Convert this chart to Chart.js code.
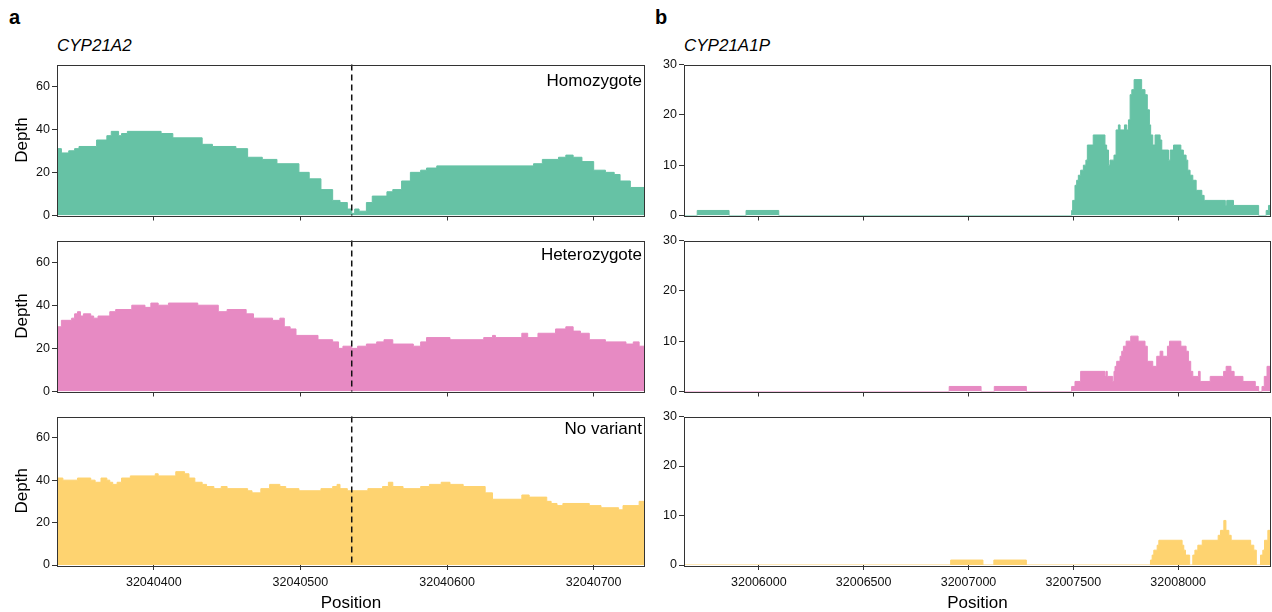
<!DOCTYPE html>
<html>
<head>
<meta charset="utf-8">
<script src="https://cdn.jsdelivr.net/npm/chart.js@4.4.0/dist/chart.umd.min.js"></script>
<style>
  body { margin: 0; background: #fff; width: 1272px; height: 612px; position: relative; overflow: hidden;
         font-family: "Liberation Sans", Arial, sans-serif; }
  canvas { position: absolute; }
  .tag { position: absolute; font-weight: bold; font-size: 20px; line-height: 20px; }
  .gene { position: absolute; font-style: italic; font-size: 17px; line-height: 20px; }
</style>
</head>
<body>
<div class="tag" style="left:9px;top:7px">a</div>
<div class="tag" style="left:655px;top:7px">b</div>
<div class="gene" style="left:57px;top:36px">CYP21A2</div>
<div class="gene" style="left:684px;top:36px">CYP21A1P</div>

<canvas id="a1" width="652" height="170" style="left:0;top:55px"></canvas>
<canvas id="a2" width="652" height="170" style="left:0;top:231px"></canvas>
<canvas id="a3" width="652" height="205" style="left:0;top:407px"></canvas>
<canvas id="b1" width="620" height="170" style="left:652px;top:55px"></canvas>
<canvas id="b2" width="620" height="170" style="left:652px;top:231px"></canvas>
<canvas id="b3" width="620" height="205" style="left:652px;top:407px"></canvas>

<script>
// CYP21A2 region
var geneRange = [32040334, 32040735];
var geneTicks = [32040400, 32040500, 32040600, 32040700];
var geneDepthTicks = [0, 20, 40, 60];
var variantPos = 32040535;

var homPos   = [32040334, 32040337, 32040342, 32040346, 32040349, 32040361, 32040368, 32040371, 32040376, 32040378, 32040382, 32040405, 32040413, 32040433, 32040440, 32040456, 32040464, 32040474, 32040484, 32040499, 32040506, 32040514, 32040522, 32040527, 32040532, 32040535, 32040537, 32040540, 32040545, 32040549, 32040559, 32040563, 32040569, 32040575, 32040582, 32040586, 32040593, 32040659, 32040665, 32040676, 32040681, 32040686, 32040692, 32040700, 32040708, 32040714, 32040718, 32040725, 32040735];
var homDepth = [31, 29, 30, 31, 32, 35, 37, 39, 37, 38, 39, 38, 36, 33, 32, 31, 27, 26, 24, 20, 17, 12, 7, 6, 3, 1, 3, 2, 6, 9, 11, 12, 16, 20, 21, 22, 23, 24, 26, 27, 28, 27, 25, 21, 20, 19, 16, 13, 12];

var hetPos   = [32040334, 32040337, 32040344, 32040346, 32040348, 32040350, 32040352, 32040357, 32040359, 32040362, 32040370, 32040374, 32040385, 32040394, 32040398, 32040403, 32040410, 32040430, 32040444, 32040450, 32040463, 32040468, 32040481, 32040486, 32040489, 32040493, 32040497, 32040512, 32040522, 32040526, 32040529, 32040535, 32040539, 32040545, 32040552, 32040557, 32040563, 32040577, 32040582, 32040586, 32040602, 32040625, 32040631, 32040633, 32040651, 32040655, 32040662, 32040674, 32040681, 32040686, 32040691, 32040697, 32040708, 32040722, 32040727, 32040731, 32040735];
var hetDepth = [30, 33, 34, 36, 37, 35, 36, 35, 34, 35, 37, 38, 40, 39, 41, 40, 41, 40, 37, 38, 36, 34, 33, 34, 30, 29, 26, 24, 23, 20, 21, 20, 21, 22, 23, 24, 22, 21, 23, 25, 24, 25, 26, 25, 27, 25, 27, 29, 30, 28, 27, 24, 23, 22, 23, 21, 21];

var novPos   = [32040334, 32040338, 32040348, 32040357, 32040360, 32040364, 32040368, 32040370, 32040372, 32040375, 32040378, 32040384, 32040401, 32040403, 32040415, 32040421, 32040424, 32040428, 32040433, 32040436, 32040441, 32040446, 32040450, 32040464, 32040467, 32040473, 32040479, 32040486, 32040490, 32040499, 32040514, 32040522, 32040525, 32040527, 32040532, 32040546, 32040556, 32040560, 32040563, 32040570, 32040582, 32040588, 32040596, 32040602, 32040611, 32040626, 32040631, 32040651, 32040656, 32040668, 32040671, 32040675, 32040679, 32040697, 32040705, 32040717, 32040720, 32040731, 32040735];
var novDepth = [41, 40, 41, 40, 39, 41, 40, 39, 38, 39, 41, 42, 43, 42, 44, 43, 41, 39, 38, 37, 36, 37, 36, 35, 34, 36, 38, 37, 36, 35, 36, 37, 38, 36, 35, 36, 37, 39, 37, 36, 37, 38, 39, 38, 37, 34, 31, 33, 32, 30, 29, 28, 29, 28, 27, 26, 28, 30, 30];

// CYP21A1P region
var pseudoRange = [32005643, 32008443];
var pseudoTicks = [32006000, 32006500, 32007000, 32007500, 32008000];
var pseudoDepthTicks = [0, 10, 20, 30];

var pHomPos   = [32005643, 32005706, 32005858, 32005939, 32006095, 32007492, 32007497, 32007508, 32007516, 32007524, 32007535, 32007548, 32007560, 32007567, 32007595, 32007651, 32007659, 32007668, 32007675, 32007694, 32007704, 32007715, 32007723, 32007744, 32007755, 32007763, 32007771, 32007779, 32007790, 32007826, 32007842, 32007853, 32007863, 32007869, 32007879, 32007890, 32007914, 32007922, 32007954, 32007962, 32007978, 32008013, 32008025, 32008038, 32008046, 32008057, 32008070, 32008086, 32008113, 32008124, 32008225, 32008232, 32008264, 32008384, 32008420, 32008431, 32008443];
var pHomDepth = [0, 1, 0, 1, 0, 1, 3, 6, 7, 8, 9, 10, 11, 14, 16, 14, 13, 10, 11, 12, 17, 18, 17, 18, 17, 19, 24, 25, 27, 25, 24, 21, 18, 16, 14, 16, 15, 13, 11, 13, 14, 13, 12, 11, 9, 8, 7, 5, 4, 3, 2, 3, 2, 0, 1, 2, 2];

var pHetPos   = [32005643, 32006908, 32007060, 32007123, 32007276, 32007492, 32007508, 32007535, 32007651, 32007656, 32007662, 32007688, 32007694, 32007699, 32007707, 32007723, 32007731, 32007739, 32007752, 32007774, 32007809, 32007842, 32007853, 32007879, 32007898, 32007914, 32007927, 32007949, 32007959, 32008013, 32008038, 32008049, 32008060, 32008070, 32008097, 32008105, 32008153, 32008217, 32008229, 32008252, 32008267, 32008309, 32008368, 32008384, 32008400, 32008411, 32008424, 32008443];
var pHetDepth = [0, 1, 0, 1, 0, 1, 2, 4, 3, 4, 3, 2, 4, 5, 6, 7, 8, 9, 10, 11, 10, 9, 6, 5, 7, 8, 7, 9, 10, 9, 8, 6, 4, 3, 4, 2, 3, 4, 5, 4, 3, 2, 1, 0, 1, 3, 5, 5];

var pNovPos   = [32005643, 32006915, 32007069, 32007121, 32007276, 32007868, 32007876, 32007884, 32007900, 32007908, 32008019, 32008027, 32008035, 32008055, 32008070, 32008080, 32008094, 32008115, 32008191, 32008202, 32008218, 32008228, 32008242, 32008253, 32008346, 32008361, 32008373, 32008393, 32008404, 32008412, 32008428, 32008443];
var pNovDepth = [0, 1, 0, 1, 0, 1, 2, 3, 4, 5, 4, 3, 2, 0, 2, 3, 4, 5, 6, 7, 9, 7, 6, 5, 4, 3, 0, 2, 3, 5, 7, 7];

var green = '#66c2a5', pink = '#e78ac3', yellow = '#fed370';
var fontName = '"Liberation Sans", Arial, sans-serif';

var framePlugin = {
  id: 'frame',
  afterDatasetsDraw: function(chart, args, o) {
    var ctx = chart.ctx, ca = chart.chartArea;
    ctx.save();
    if (o.vline) {
      var x = chart.scales.x.getPixelForValue(o.vline);
      ctx.strokeStyle = '#111';
      ctx.lineWidth = 1.5;
      ctx.setLineDash([6, 4]);
      ctx.beginPath();
      ctx.moveTo(x, ca.top);
      ctx.lineTo(x, ca.bottom);
      ctx.stroke();
      ctx.setLineDash([]);
    }
    ctx.strokeStyle = '#333';
    ctx.lineWidth = 1;
    ctx.strokeRect(Math.round(ca.left) + 0.5, Math.round(ca.top) + 0.5,
                   Math.round(ca.right - ca.left) - 1, Math.round(ca.bottom - ca.top));
    if (o.label) {
      ctx.fillStyle = '#000';
      ctx.font = '17px ' + fontName;
      ctx.textAlign = 'right';
      ctx.textBaseline = 'alphabetic';
      ctx.fillText(o.label, ca.right - 3, ca.top + o.labelY);
    }
    ctx.restore();
  }
};

function setTicks(vals) {
  return function(s) { s.ticks = vals.map(function(v) { return {value: v}; }); };
}

function panel(id, pos, depth, color, cfg) {
  var pts = pos.map(function(p, i) { return {x: p, y: depth[i]}; });
  new Chart(document.getElementById(id), {
    type: 'line',
    data: { datasets: [{ data: pts, stepped: true, fill: 'origin', backgroundColor: color,
                         borderColor: color, borderWidth: 1, pointRadius: 0 }] },
    options: {
      responsive: false,
      animation: false,
      layout: { padding: { top: 7, right: cfg.padRight, left: 0, bottom: 0 } },
      plugins: {
        legend: { display: false },
        tooltip: { enabled: false },
        frame: { vline: cfg.vline, label: cfg.label, labelY: cfg.labelY }
      },
      scales: {
        x: {
          type: 'linear', min: cfg.range[0], max: cfg.range[1],
          afterBuildTicks: setTicks(cfg.xticks),
          ticks: { display: cfg.bottom, autoSkip: false, maxRotation: 0, padding: 5, color: '#111',
                   font: { family: fontName, size: 12.5 },
                   callback: function(v) { return String(v); } },
          grid: { drawOnChartArea: false, tickLength: 5, color: '#333' },
          border: { display: false },
          title: { display: cfg.bottom, text: 'Position', color: '#000',
                   font: { family: fontName, size: 17, lineHeight: 1.06 }, padding: 0 },
          afterFit: function(s) { s.height = cfg.xh; }
        },
        y: {
          min: 0, max: cfg.ymax,
          afterBuildTicks: setTicks(cfg.yticks),
          ticks: { padding: 2, color: '#111', font: { family: fontName, size: 12.5 } },
          grid: { drawOnChartArea: false, tickLength: 5, color: '#333' },
          border: { display: false },
          title: { display: cfg.ytitle, text: 'Depth', color: '#000',
                   font: { family: fontName, size: 17, lineHeight: 1.2 }, padding: { top: 12, bottom: 0 } },
          afterFit: function(s) { s.width = cfg.yw; }
        }
      }
    },
    plugins: [framePlugin]
  });
}

var left = { range: geneRange, xticks: geneTicks, ymax: 70, yticks: geneDepthTicks, yw: 57, padRight: 7, ytitle: true, vline: variantPos };
var right = { range: pseudoRange, xticks: pseudoTicks, ymax: 30, yticks: pseudoDepthTicks, yw: 32, padRight: 1, ytitle: false };

function merge(a, b) { var o = {}; for (var k in a) o[k] = a[k]; for (var k2 in b) o[k2] = b[k2]; return o; }

panel('a1', homPos, homDepth, green, merge(left, { bottom: false, xh: 8, label: 'Homozygote', labelY: 21 }));
panel('a2', hetPos, hetDepth, pink, merge(left, { bottom: false, xh: 8, label: 'Heterozygote', labelY: 19 }));
panel('a3', novPos, novDepth, yellow, merge(left, { bottom: true, xh: 47, label: 'No variant', labelY: 17 }));
panel('b1', pHomPos, pHomDepth, green, merge(right, { bottom: false, xh: 8 }));
panel('b2', pHetPos, pHetDepth, pink, merge(right, { bottom: false, xh: 8 }));
panel('b3', pNovPos, pNovDepth, yellow, merge(right, { bottom: true, xh: 47 }));
</script>
</body>
</html>
